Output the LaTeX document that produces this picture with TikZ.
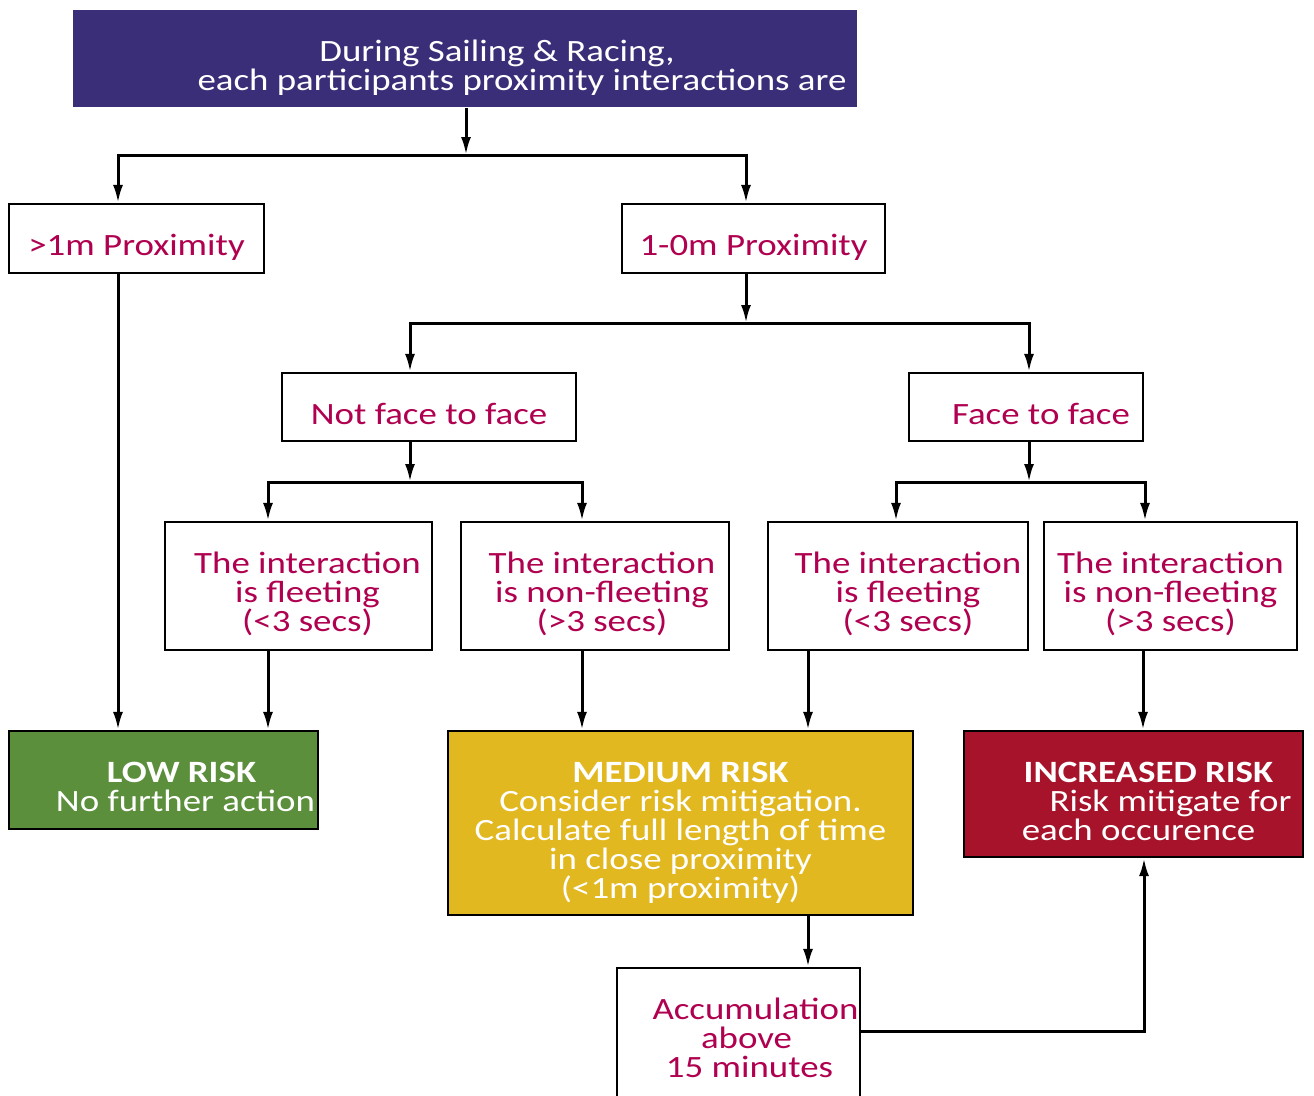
\documentclass[tikz,border=0pt]{standalone}
\usepackage{fontspec}
\setmainfont{Carlito}[FakeStretch=1.19]
\usetikzlibrary{arrows.meta}

\definecolor{headblue}{HTML}{3B2E78}
\definecolor{labelred}{HTML}{B00050}
\definecolor{lowgreen}{HTML}{5B8F3C}
\definecolor{medgold}{HTML}{E2B820}
\definecolor{incred}{HTML}{A6132B}

% push a centred line to the right
\newcommand{\pushr}[1]{\hspace*{#1pt}}

\begin{document}
\begin{tikzpicture}[x=1pt,y=-1pt,->,>={Latex[length=18pt,width=10pt]},line width=3pt,
  box/.style = {draw, line width=2.2pt, fill=white, text=labelred, align=center, inner sep=0pt, font=\fontsize{31}{29}\selectfont},
  size/.style n args = {3}{minimum width=#1, text height={51pt+(#3-1)*29pt}, text depth={#2-51pt-(#3-1)*29pt}},
  risk/.style = {box, text=white},
  head/.style = {box, draw=none, fill=headblue, text=white}]
\clip (0,0) rectangle (1314,1095);
\fill[white] (0,0) rectangle (1314,1095);

\node[head, size={784pt}{97pt}{2}] (head) at (465,58.5) {\pushr{64}During Sailing \& Racing,\\ \pushr{114}each participants proximity interactions are};

\node[box, size={255pt}{69pt}{1}] (far) at (136.5,238.5) {>1m Proximity};
\node[box, size={263pt}{69pt}{1}] (near) at (753.5,238.5) {1-0m Proximity};

\node[box, size={294pt}{68pt}{1}] (notf) at (429,407) {Not face to face};
\node[box, size={234pt}{68pt}{1}] (face) at (1026,407) {\pushr{30}Face to face};

\node[box, size={267pt}{128pt}{3}] (nf1) at (298.5,586) {\pushr{18}The interaction\\ \pushr{18}is fleeting\\ \pushr{18}(<3 secs)};
\node[box, size={268pt}{128pt}{3}] (nf2) at (595,586) {\pushr{14}The interaction\\ \pushr{14}is non-fleeting\\ \pushr{14}(>3 secs)};
\node[box, size={260pt}{128pt}{3}] (ff1) at (898,586) {\pushr{20}The interaction\\ \pushr{20}is fleeting\\ \pushr{20}(<3 secs)};
\node[box, size={253pt}{128pt}{3}] (ff2) at (1170.5,586) {The interaction\\ is non-fleeting\\ (>3 secs)};

\node[risk, fill=lowgreen, size={309pt}{98pt}{2}] (low) at (163.5,780) {\pushr{36}\textbf{LOW RISK}\\ \pushr{44}No further action};
\node[risk, fill=medgold, size={465pt}{184pt}{5}] (med) at (680.5,823) {\textbf{MEDIUM RISK}\\ Consider risk mitigation.\\ Calculate full length of time\\ in close proximity\\ (<1m proximity)};
\node[risk, fill=incred, size={339pt}{126pt}{3}] (inc) at (1133.5,794) {\pushr{30}\textbf{INCREASED RISK}\\ \pushr{74}Risk mitigate for\\ \pushr{10}each occurence};

\node[box, size={243pt}{140pt}{3}] (acc) at (738.5,1038) {\pushr{34}Accumulation\\ \pushr{16}above\\ \pushr{22}15 minutes};

% junctions
\coordinate (j1) at (466,155);
\coordinate (j2) at (746,323);
\coordinate (j3) at (410,482);
\coordinate (j4) at (1029,482);

% header split
\draw (head.south -| j1) -- (j1);
\draw (j1) -| ([xshift=-18.5pt]far.north);
\draw (j1) -| ([xshift=-7.5pt]near.north);
% 1-0m split
\draw ([xshift=-7.5pt]near.south) -- (j2);
\draw (j2) -| ([xshift=-19pt]notf.north);
\draw (j2) -| ([xshift=3pt]face.north);
% not face to face
\draw ([xshift=-19pt]notf.south) -- (j3);
\draw (j3) -| ([xshift=-30.5pt]nf1.north);
\draw (j3) -| ([xshift=-13pt]nf2.north);
% face to face
\draw ([xshift=3pt]face.south) -- (j4);
\draw (j4) -| ([xshift=-2pt]ff1.north);
\draw (j4) -| ([xshift=-25.5pt]ff2.north);
% to risk levels
\draw ([xshift=-18.5pt]far.south) -- ([xshift=-45.5pt]low.north);
\draw ([xshift=-30.5pt]nf1.south) -- ([xshift=104.5pt]low.north);
\draw ([xshift=-13pt]nf2.south) -- ([xshift=-98.5pt]med.north);
\draw ([xshift=-90pt]ff1.south) -- ([xshift=127.5pt]med.north);
\draw ([xshift=-27.5pt]ff2.south) -- ([xshift=9.5pt]inc.north);
% accumulation
\draw ([xshift=127.5pt]med.south) -- ([xshift=69.5pt]acc.north);
\draw ([yshift=7pt]acc.east) -| ([xshift=10.5pt]inc.south);
\end{tikzpicture}
\end{document}
